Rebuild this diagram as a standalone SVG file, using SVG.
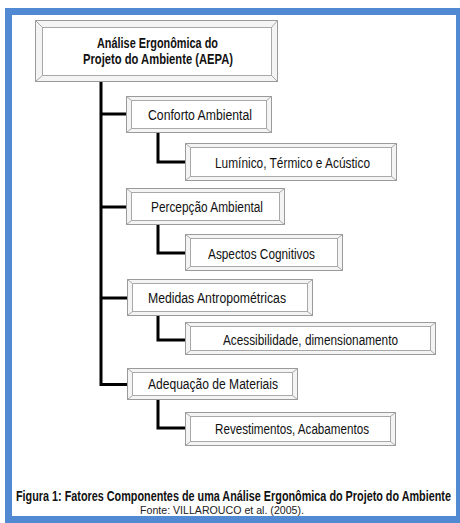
<svg xmlns="http://www.w3.org/2000/svg" width="460" height="523" viewBox="0 0 460 523">
  <style>
    .frame { fill: #5189d2; }
    .page { fill: #ffffff; }
    .bev-out { fill: #f4f4f4; stroke: #9a9a9a; stroke-width: 1; }
    .bev-in { fill: #ffffff; stroke: #a8a8a8; stroke-width: 1; }
    .bev-edge { stroke: #a8a8a8; stroke-width: 1; fill: none; }
    .lbl { font-family: "Liberation Sans Narrow", "Liberation Sans", Arial, sans-serif; font-size: 15.5px; fill: #111111; }
    .title { font-family: "Liberation Sans Narrow", "Liberation Sans", Arial, sans-serif; font-size: 14px; font-weight: bold; fill: #111111; }
    .cap { font-family: "Liberation Sans Narrow", "Liberation Sans", Arial, sans-serif; font-size: 14px; font-weight: bold; fill: #111111; }
    .src { font-family: "Liberation Sans Narrow", "Liberation Sans", Arial, sans-serif; font-size: 11px; fill: #222222; }
    .wire { fill: none; stroke: #000000; stroke-width: 3; stroke-linejoin: miter; }
  </style>

  <!-- blue page frame -->
  <rect class="frame" x="5" y="8" width="455" height="515"/>
  <rect class="page" x="12" y="15" width="444" height="501"/>

  <!-- connectors -->
  <g id="connectors">
    <path class="wire" d="M101,82 V384.5 H127"/>
    <path class="wire" d="M101,114 H126"/>
    <path class="wire" d="M101,207 H126"/>
    <path class="wire" d="M101,298 H127"/>
    <path class="wire" d="M158,133 V162 H185"/>
    <path class="wire" d="M158,225 V253 H185"/>
    <path class="wire" d="M158,315 V340 H185"/>
    <path class="wire" d="M158,399 V428 H185"/>
  </g>

  <!-- root node -->
  <g id="root">
    <rect class="bev-out" x="35.5" y="20.5" width="242" height="61"/>
    <rect class="bev-in" x="42.5" y="27.5" width="229" height="48"/>
    <path class="bev-edge" d="M35.5,20.5 L42.5,27.5 M277.5,20.5 L271.5,27.5 M35.5,81.5 L42.5,75.5 M277.5,81.5 L271.5,75.5"/>
    <text class="title" x="97" y="48" textLength="121" lengthAdjust="spacingAndGlyphs">Análise Ergonômica do</text>
    <text class="title" x="83" y="64" textLength="150" lengthAdjust="spacingAndGlyphs">Projeto do Ambiente (AEPA)</text>
  </g>

  <g id="conforto">
    <rect class="bev-out" x="126.5" y="96.5" width="145" height="36"/>
    <rect class="bev-in" x="131.5" y="100.5" width="135" height="28"/>
    <path class="bev-edge" d="M126.5,96.5 L131.5,100.5 M271.5,96.5 L266.5,100.5 M126.5,132.5 L131.5,128.5 M271.5,132.5 L266.5,128.5"/>
    <text class="lbl" x="148" y="119.5" textLength="104" lengthAdjust="spacingAndGlyphs">Conforto Ambiental</text>
  </g>

  <g id="luminico">
    <rect class="bev-out" x="185.5" y="143.5" width="211" height="37"/>
    <rect class="bev-in" x="190.5" y="147.5" width="201" height="29"/>
    <path class="bev-edge" d="M185.5,143.5 L190.5,147.5 M396.5,143.5 L391.5,147.5 M185.5,180.5 L190.5,176.5 M396.5,180.5 L391.5,176.5"/>
    <text class="lbl" x="215" y="167.5" textLength="155" lengthAdjust="spacingAndGlyphs">Lumínico, Térmico e Acústico</text>
  </g>

  <g id="percepcao">
    <rect class="bev-out" x="126.5" y="188.5" width="158" height="36"/>
    <rect class="bev-in" x="131.5" y="192.5" width="148" height="28"/>
    <path class="bev-edge" d="M126.5,188.5 L131.5,192.5 M284.5,188.5 L279.5,192.5 M126.5,224.5 L131.5,220.5 M284.5,224.5 L279.5,220.5"/>
    <text class="lbl" x="151" y="212" textLength="112" lengthAdjust="spacingAndGlyphs">Percepção Ambiental</text>
  </g>

  <g id="aspectos">
    <rect class="bev-out" x="185.5" y="234.5" width="157" height="36"/>
    <rect class="bev-in" x="190.5" y="238.5" width="147" height="28"/>
    <path class="bev-edge" d="M185.5,234.5 L190.5,238.5 M342.5,234.5 L337.5,238.5 M185.5,270.5 L190.5,266.5 M342.5,270.5 L337.5,266.5"/>
    <text class="lbl" x="208" y="258.5" textLength="107" lengthAdjust="spacingAndGlyphs">Aspectos Cognitivos</text>
  </g>

  <g id="medidas">
    <rect class="bev-out" x="127.5" y="279.5" width="185" height="36"/>
    <rect class="bev-in" x="132.5" y="283.5" width="175" height="28"/>
    <path class="bev-edge" d="M127.5,279.5 L132.5,283.5 M312.5,279.5 L307.5,283.5 M127.5,315.5 L132.5,311.5 M312.5,315.5 L307.5,311.5"/>
    <text class="lbl" x="148" y="302.5" textLength="138" lengthAdjust="spacingAndGlyphs">Medidas Antropométricas</text>
  </g>

  <g id="acessibilidade">
    <rect class="bev-out" x="185.5" y="322.5" width="250" height="32"/>
    <rect class="bev-in" x="190.5" y="326.5" width="240" height="24"/>
    <path class="bev-edge" d="M185.5,322.5 L190.5,326.5 M435.5,322.5 L430.5,326.5 M185.5,354.5 L190.5,350.5 M435.5,354.5 L430.5,350.5"/>
    <text class="lbl" x="223" y="344.5" textLength="175" lengthAdjust="spacingAndGlyphs">Acessibilidade, dimensionamento</text>
  </g>

  <g id="adequacao">
    <rect class="bev-out" x="127.5" y="368.5" width="170" height="31"/>
    <rect class="bev-in" x="132.5" y="372.5" width="160" height="23"/>
    <path class="bev-edge" d="M127.5,368.5 L132.5,372.5 M297.5,368.5 L292.5,372.5 M127.5,399.5 L132.5,395.5 M297.5,399.5 L292.5,395.5"/>
    <text class="lbl" x="148" y="388.5" textLength="130" lengthAdjust="spacingAndGlyphs">Adequação de Materiais</text>
  </g>

  <g id="revestimentos">
    <rect class="bev-out" x="185.5" y="412.5" width="210" height="33"/>
    <rect class="bev-in" x="190.5" y="416.5" width="200" height="25"/>
    <path class="bev-edge" d="M185.5,412.5 L190.5,416.5 M395.5,412.5 L390.5,416.5 M185.5,445.5 L190.5,441.5 M395.5,445.5 L390.5,441.5"/>
    <text class="lbl" x="215" y="433.5" textLength="154" lengthAdjust="spacingAndGlyphs">Revestimentos, Acabamentos</text>
  </g>

  <!-- caption, condensed horizontally to fit the page width -->
  <text class="cap" transform="translate(16,500.5) scale(0.774,1)" x="0" y="0" textLength="562" lengthAdjust="spacingAndGlyphs">Figura 1: Fatores Componentes de uma Análise Ergonômica do Projeto do Ambiente</text>
  <text class="src" x="140" y="514" textLength="164" lengthAdjust="spacingAndGlyphs">Fonte: VILLAROUCO et al. (2005).</text>
</svg>
